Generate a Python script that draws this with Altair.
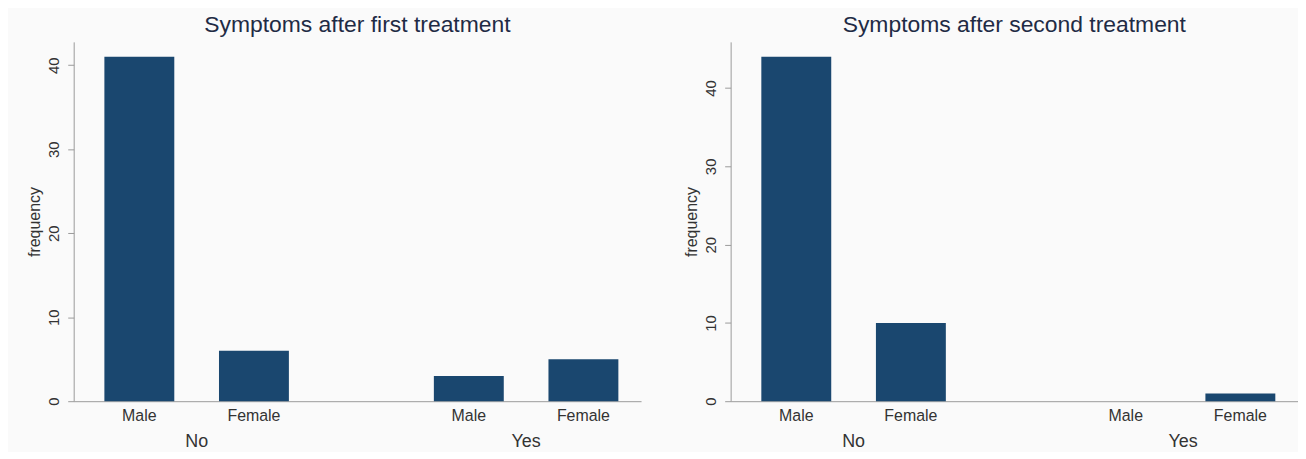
import altair as alt
import pandas as pd

groups = ["No", "No", "Yes", "Yes"]
sexes = ["Male", "Female", "Male", "Female"]
first_counts = [41, 6, 3, 5]
second_counts = [44, 10, 0, 1]
titles = ["Symptoms after first treatment", "Symptoms after second treatment"]
y_tops = [42.77, 45.9]
y_ticks = [0, 10, 20, 30, 40]

FONT = "Liberation Sans"
BAR = "#1a476f"
TXT = "#333333"
AXC = "#9a9a9a"
W, H = 570, 361


def panel(counts, title, ytop):
    df = pd.DataFrame({"group": groups, "sex": sexes, "freq": counts})
    xs = alt.X("group:N", sort=["No", "Yes"],
               scale=alt.Scale(paddingInner=0.44, paddingOuter=0.081, align=0.575),
               axis=alt.Axis(title=None, ticks=False, labelAngle=0, labelFontSize=18,
                             labelFont=FONT, labelColor=TXT, labelPadding=41,
                             labelBaseline="middle", domainColor=AXC, grid=False))
    xo = alt.XOffset("sex:N", sort=["Male", "Female"],
                     scale=alt.Scale(paddingInner=0.39, paddingOuter=0))
    base = alt.Chart(df)
    bars = base.mark_bar(color=BAR).encode(
        x=xs, xOffset=xo,
        y=alt.Y("freq:Q", scale=alt.Scale(domain=[0, ytop], nice=False, zero=True),
                axis=alt.Axis(title="frequency", values=y_ticks, grid=False,
                              labelAngle=270, labelFontSize=15, labelFont=FONT,
                              labelColor=TXT, labelPadding=6, tickSize=6,
                              tickColor=AXC, domainColor=AXC, titleFont=FONT,
                              titleFontSize=16, titleFontWeight="normal",
                              titleColor=TXT, titlePadding=4)),
    )
    labels = base.mark_text(fontSize=16, font=FONT, color=TXT, baseline="middle").encode(
        x=xs, xOffset=xo, y=alt.value(H + 15), text="sex:N")
    return alt.layer(bars, labels).properties(
        width=W, height=H,
        title=alt.TitleParams(title, fontSize=23, font=FONT, fontWeight="normal",
                              color="#1f2b45", anchor="middle", offset=-18,
                              baseline="bottom"))


chart = alt.hconcat(
    panel(first_counts, titles[0], y_tops[0]),
    panel(second_counts, titles[1], y_tops[1]),
    spacing=43,
).properties(
    background="#fafafa",
    padding={"left": 19, "top": 5, "right": 0, "bottom": 0},
).configure_view(stroke=None)

chart.save("out.html", embed_options={"renderer": "svg", "actions": False})
